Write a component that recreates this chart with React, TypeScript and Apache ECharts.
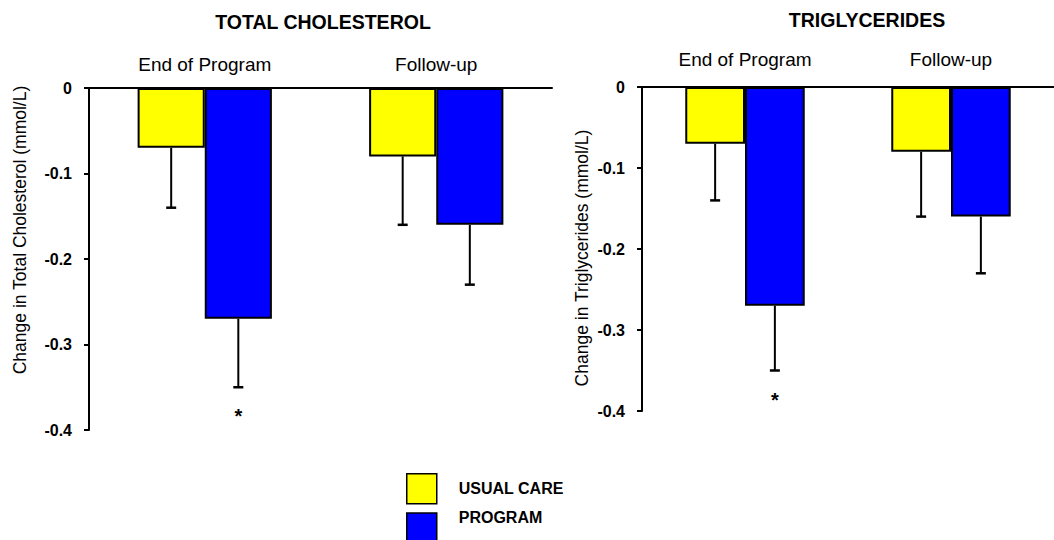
import React, { useEffect, useRef } from "react";
import * as echarts from "echarts";

const categories = ["End of Program", "Follow-up"];
const seriesNames = ["USUAL CARE", "PROGRAM"];

// Total cholesterol (mmol/L change)
const cholUsual = [-0.07, -0.08];
const cholUsualErrEnd = [-0.14, -0.16];
const cholProgram = [-0.27, -0.16];
const cholProgramErrEnd = [-0.35, -0.23];
const cholProgramSig = ["*", ""];

// Triglycerides (mmol/L change)
const tgUsual = [-0.07, -0.08];
const tgUsualErrEnd = [-0.14, -0.16];
const tgProgram = [-0.27, -0.16];
const tgProgramErrEnd = [-0.35, -0.23];
const tgProgramSig = ["*", ""];

const yTicks = { min: -0.4, max: 0, interval: 0.1 };

const FONT = "'Liberation Sans', Arial, Helvetica, sans-serif";
const GAP = 0.42;

function errorSeries(gridIndex: number, values: number[], ends: number[], side: number, marks: string[]) {
  return {
    type: "custom",
    xAxisIndex: gridIndex,
    yAxisIndex: gridIndex,
    silent: true,
    z: 5,
    data: values.map((v, i) => [i, v, ends[i], side]),
    renderItem: (params: any, api: any) => {
      const cat = api.value(0);
      const v = api.value(1);
      const e = api.value(2);
      const s = api.value(3);
      const catW = api.size([1, 0])[0];
      const bw = (catW * (1 - GAP)) / 2;
      const x = api.coord([cat, 0])[0] + (s * bw) / 2;
      const y0 = api.coord([cat, v])[1];
      const y1 = api.coord([cat, e])[1];
      const children: any[] = [
        { type: "line", shape: { x1: x, y1: y0, x2: x, y2: y1 }, style: { stroke: "#000", lineWidth: 2 } },
        { type: "line", shape: { x1: x - 5, y1: y1, x2: x + 5, y2: y1 }, style: { stroke: "#000", lineWidth: 2.5 } },
      ];
      const m = marks[params.dataIndex];
      if (m) {
        children.push({
          type: "text",
          x: x,
          y: y1 + 29,
          style: { text: m, font: `bold 20px ${FONT}`, fill: "#000", align: "center", verticalAlign: "middle" },
        });
      }
      return { type: "group", children };
    },
  };
}

function barSeries(gridIndex: number, name: string, data: number[], color: string) {
  return {
    type: "bar",
    name,
    xAxisIndex: gridIndex,
    yAxisIndex: gridIndex,
    data,
    barGap: "0%",
    barCategoryGap: `${GAP * 100}%`,
    itemStyle: { color, borderColor: "#000", borderWidth: 2 },
  };
}

function xAxis(gridIndex: number, margin: number) {
  return {
    type: "category",
    gridIndex,
    data: categories,
    position: "top",
    axisLine: { lineStyle: { color: "#000", width: 2 } },
    axisTick: { inside: true, length: 8, lineStyle: { color: "#000", width: 2 } },
    axisLabel: { color: "#000", fontSize: 19, fontFamily: FONT, margin },
    splitLine: { show: false },
  };
}

function yAxis(gridIndex: number, name: string, nameGap: number, padding: number[]) {
  return {
    type: "value",
    gridIndex,
    min: yTicks.min,
    max: yTicks.max,
    interval: yTicks.interval,
    name,
    nameLocation: "middle",
    nameRotate: 90,
    nameGap,
    nameTextStyle: { color: "#000", fontSize: 17.5, fontFamily: FONT, padding },
    axisLine: { show: true, lineStyle: { color: "#000", width: 2 } },
    axisTick: { show: true, length: 5, lineStyle: { color: "#000", width: 2 } },
    axisLabel: {
      color: "#000",
      fontSize: 16,
      fontWeight: "bold",
      fontFamily: FONT,
      margin: 17,
      padding: [0, 0, 14, 0],
      formatter: (v: number) => (Math.abs(v) < 1e-9 ? "0" : v.toFixed(1)),
    },
    splitLine: { show: false },
  };
}

function legendItem(name: string, top: number, raised: boolean) {
  return {
    data: [name],
    orient: "vertical",
    left: 406,
    top,
    padding: 0,
    itemWidth: 30,
    itemHeight: 30,
    icon: "rect",
    itemStyle: { borderColor: "#000", borderWidth: 1.5 },
    formatter: raised ? "{name}\n " : "{name}",
    textStyle: {
      color: "#000",
      fontSize: 16,
      fontWeight: "bold",
      fontFamily: FONT,
      lineHeight: 22,
      padding: [0, 0, 0, 17],
    },
  };
}

export default function App() {
  const ref = useRef<HTMLDivElement>(null);
  useEffect(() => {
    if (!ref.current) return;
    const chart = echarts.init(ref.current, undefined, { renderer: "svg" });
    chart.setOption({
      animation: false,
      backgroundColor: "#fff",
      textStyle: { fontFamily: FONT },
      title: [
        {
          text: "TOTAL CHOLESTEROL",
          left: 318,
          top: 7,
          textAlign: "center",
          textStyle: { fontSize: 19.5, fontWeight: "bold", color: "#000", fontFamily: FONT },
        },
        {
          text: "TRIGLYCERIDES",
          left: 862,
          top: 5,
          textAlign: "center",
          textStyle: { fontSize: 19.5, fontWeight: "bold", color: "#000", fontFamily: FONT },
        },
      ],
      legend: [legendItem(seriesNames[0], 473, false), legendItem(seriesNames[1], 506, true)],
      grid: [
        { left: 89, top: 88, width: 463, height: 342 },
        { left: 642, top: 87, width: 416, height: 324 },
      ],
      xAxis: [xAxis(0, 14), xAxis(1, 18)],
      yAxis: [
        yAxis(0, "Change in Total Cholesterol (mmol/L)", 60, [0, 0, 0, 58]),
        yAxis(1, "Change in Triglycerides (mmol/L)", 51, [0, 18, 0, 0]),
      ],
      series: [
        barSeries(0, seriesNames[0], cholUsual, "#ffff00"),
        barSeries(0, seriesNames[1], cholProgram, "#0000ff"),
        errorSeries(0, cholUsual, cholUsualErrEnd, -1, ["", ""]),
        errorSeries(0, cholProgram, cholProgramErrEnd, 1, cholProgramSig),
        barSeries(1, seriesNames[0], tgUsual, "#ffff00"),
        barSeries(1, seriesNames[1], tgProgram, "#0000ff"),
        errorSeries(1, tgUsual, tgUsualErrEnd, -1, ["", ""]),
        errorSeries(1, tgProgram, tgProgramErrEnd, 1, tgProgramSig),
      ],
    });
    return () => chart.dispose();
  }, []);
  return (
    <div
      ref={ref}
      style={{ position: "absolute", left: 0, top: 0, width: 1054, height: 540, background: "#fff" }}
    />
  );
}
